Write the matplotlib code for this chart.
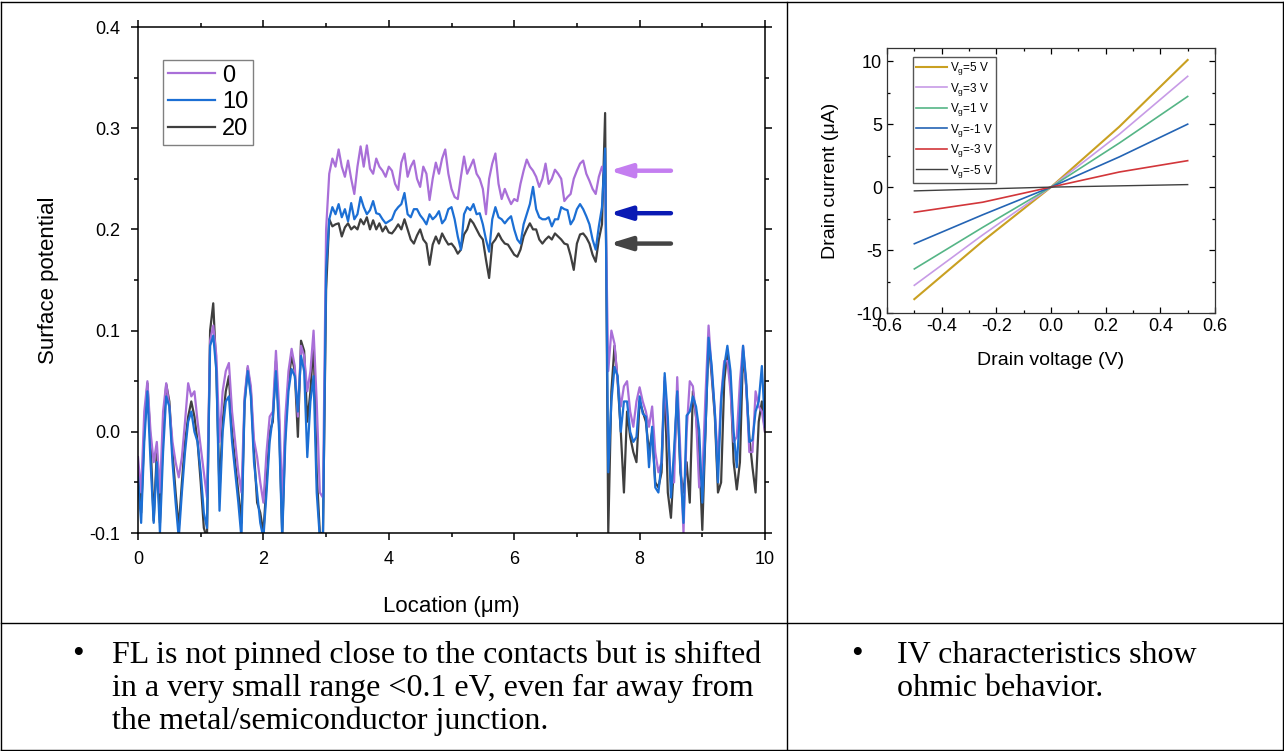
import numpy as np
import matplotlib
matplotlib.use("Agg")
import matplotlib.pyplot as plt
from matplotlib.lines import Line2D
from matplotlib.ticker import MultipleLocator

'''Surface potential line profiles (left) and IV curves (right)'''

# location grid of the KPFM line scan, 0.05 um steps
location = np.linspace(0, 10, 201)

# surface potential for the three traces, rows of 0.5 um
sp_0 = [
    -0.025, -0.06, 0.02, 0.05, 0.00, -0.03, -0.01, -0.06, 0.02, 0.048,
    0.025, -0.01, -0.03, -0.045, -0.025, 0.01, 0.048, 0.035, 0.04, 0.01,
    -0.015, -0.04, -0.065, 0.09, 0.105, 0.075, -0.01, 0.04, 0.06, 0.068,
    0.02, -0.01, -0.04, -0.06, 0.035, 0.065, 0.045, -0.008, -0.025, -0.05,
    -0.07, -0.02, 0.015, 0.02, 0.08, 0.025, -0.07, 0.015, 0.06, 0.082,
    0.065, 0.015, 0.085, 0.075, 0.04, 0.06, 0.1, 0.03, -0.06, -0.065,
    0.20, 0.255, 0.27, 0.262, 0.279, 0.262, 0.252, 0.268, 0.25, 0.235,
    0.262, 0.282, 0.262, 0.283, 0.26, 0.255, 0.27, 0.262, 0.258, 0.252,
    0.262, 0.258, 0.245, 0.239, 0.266, 0.275, 0.252, 0.262, 0.268, 0.25,
    0.242, 0.262, 0.255, 0.229, 0.25, 0.266, 0.255, 0.27, 0.279, 0.255,
    0.24, 0.232, 0.23, 0.252, 0.272, 0.255, 0.262, 0.269, 0.255, 0.25,
    0.24, 0.215, 0.25, 0.265, 0.275, 0.245, 0.23, 0.24, 0.232, 0.225,
    0.23, 0.228, 0.245, 0.258, 0.269, 0.262, 0.258, 0.252, 0.242, 0.25,
    0.265, 0.245, 0.25, 0.259, 0.255, 0.25, 0.228, 0.232, 0.235, 0.25,
    0.258, 0.265, 0.268, 0.255, 0.248, 0.24, 0.235, 0.252, 0.262, 0.25,
    0.06, 0.1, 0.087, 0.05, 0.025, 0.045, 0.05, 0.02, 0.005, 0.03,
    0.044, 0.03, 0.02, 0.005, 0.025, -0.02, -0.04, -0.03, 0.054, 0.0,
    -0.05, -0.05, 0.054, -0.02, -0.1, 0.0, 0.05, 0.045, 0.015, -0.055,
    -0.045, 0.035, 0.105, 0.06, 0.02, -0.03, 0.035, 0.07, 0.07, 0.04,
    -0.01, -0.005, 0.05, 0.085, 0.045, -0.02, -0.02, 0.04, 0.025, 0.02,
    0.0,
]

sp_10 = [
    -0.045, -0.09, -0.01, 0.04, -0.03, -0.09, -0.03, -0.10, -0.02, 0.035,
    0.025, -0.03, -0.07, -0.105, -0.06, -0.02, 0.01, 0.02, 0.0, -0.01,
    -0.04, -0.08, -0.095, 0.085, 0.095, 0.06, -0.078, 0.0, 0.03, 0.035,
    -0.01, -0.04, -0.07, -0.105, 0.028, 0.06, 0.035, -0.03, -0.06, -0.09,
    -0.105, -0.06, -0.01, 0.015, 0.06, 0.0, -0.105, -0.01, 0.04, 0.062,
    0.055, 0.02, 0.075, 0.06, -0.025, 0.03, 0.055, -0.06, -0.105, -0.105,
    0.16, 0.21, 0.222, 0.215, 0.225, 0.212, 0.22, 0.208, 0.226, 0.21,
    0.215, 0.232, 0.222, 0.215, 0.219, 0.228, 0.216, 0.215, 0.21, 0.206,
    0.208, 0.21, 0.218, 0.222, 0.225, 0.236, 0.215, 0.212, 0.22, 0.22,
    0.214, 0.21, 0.205, 0.215, 0.21, 0.213, 0.218, 0.206, 0.21, 0.22,
    0.222, 0.21, 0.193, 0.18, 0.215, 0.222, 0.219, 0.225, 0.215, 0.216,
    0.205, 0.19, 0.178, 0.21, 0.222, 0.212, 0.21, 0.206, 0.21, 0.213,
    0.2, 0.19, 0.186, 0.205, 0.215, 0.225, 0.242, 0.22, 0.212, 0.21,
    0.21, 0.212, 0.203, 0.21, 0.21, 0.222, 0.22, 0.219, 0.205, 0.21,
    0.22, 0.225, 0.22, 0.213, 0.205, 0.19, 0.18, 0.203, 0.222, 0.28,
    -0.04, 0.03, 0.064, 0.055, 0.0, 0.03, 0.03, 0.0, -0.01, -0.005,
    0.035, 0.018, 0.015, -0.035, 0.005, -0.055, -0.06, -0.03, 0.058, 0.015,
    -0.065, -0.018, 0.04, -0.035, -0.09, 0.016, 0.02, 0.035, 0.025, 0.002,
    -0.07, 0.0, 0.093, 0.065, 0.02, -0.05, 0.03, 0.065, 0.085, 0.06,
    0.0, -0.035, 0.02, 0.085, 0.05, -0.01, -0.008, 0.02, 0.03, 0.065,
    0.005,
]

sp_20 = [
    -0.035, -0.08, 0.0, 0.048, -0.01, -0.088, -0.02, -0.09, 0.0, 0.047,
    0.03, -0.02, -0.06, -0.095, -0.05, -0.01, 0.015, 0.03, 0.015, -0.01,
    -0.05, -0.095, -0.105, 0.1, 0.127, 0.06, -0.06, 0.01, 0.04, 0.055,
    0.0, -0.03, -0.06, -0.09, 0.03, 0.063, 0.04, -0.02, -0.07, -0.08,
    -0.1, -0.05, 0.0, 0.01, 0.07, 0.01, -0.1, 0.0, 0.05, 0.075,
    0.06, -0.005, 0.09, 0.08, 0.01, 0.04, 0.09, -0.04, -0.1, -0.1,
    0.14, 0.21, 0.203, 0.205, 0.206, 0.193, 0.202, 0.206, 0.2, 0.203,
    0.2, 0.21, 0.205, 0.212, 0.2, 0.209, 0.2, 0.206, 0.198, 0.203,
    0.197, 0.196, 0.2, 0.205, 0.2, 0.21, 0.2, 0.19, 0.186, 0.194,
    0.2, 0.19, 0.186, 0.165, 0.185, 0.193, 0.186, 0.196, 0.19, 0.185,
    0.186, 0.182, 0.176, 0.18, 0.195, 0.2, 0.21, 0.206, 0.2, 0.194,
    0.19, 0.17, 0.152, 0.186, 0.19, 0.196, 0.19, 0.186, 0.185, 0.18,
    0.175, 0.173, 0.18, 0.193, 0.2, 0.206, 0.2, 0.2, 0.19, 0.186,
    0.19, 0.193, 0.19, 0.196, 0.193, 0.19, 0.186, 0.185, 0.174, 0.16,
    0.186, 0.195, 0.196, 0.192, 0.186, 0.175, 0.168, 0.19, 0.205, 0.315,
    -0.1, 0.04, 0.085, 0.05, 0.0, -0.06, 0.02, -0.005, -0.02, -0.03,
    0.03, 0.02, 0.01, -0.02, 0.0, -0.05, -0.055, -0.04, 0.05, -0.06,
    -0.085, -0.03, 0.04, -0.04, -0.06, -0.03, -0.07, 0.04, 0.015, -0.02,
    -0.097, 0.0, 0.09, 0.055, 0.015, -0.06, -0.05, 0.05, 0.08, 0.05,
    -0.03, -0.057, -0.03, 0.08, 0.045, -0.005, -0.035, -0.06, 0.01, 0.03,
    0.0,
]

trace_labels = ["0", "10", "20"]

# plateau levels marked by arrows
arrow_levels = [0.258, 0.216, 0.186]

# IV curves
drain_v = [-0.5, -0.25, 0.0, 0.25, 0.5]
id_vg5 = [-8.9, -4.3, 0.0, 4.8, 10.1]
id_vg3 = [-7.8, -3.8, 0.0, 4.2, 8.8]
id_vg1 = [-6.5, -3.2, 0.0, 3.5, 7.2]
id_vgm1 = [-4.5, -2.2, 0.0, 2.4, 5.0]
id_vgm3 = [-2.0, -1.2, 0.0, 1.2, 2.1]
id_vgm5 = [-0.3, -0.15, 0.0, 0.1, 0.2]
vg_labels = ["5", "3", "1", "-1", "-3", "-5"]

left_notes = [
    "FL is not pinned close to the contacts but is shifted",
    "in a very small range <0.1 eV, even far away from",
    "the metal/semiconductor junction.",
]
right_notes = ["IV characteristics show", "ohmic behavior."]

plt.rcParams["font.family"] = ["Liberation Sans", "DejaVu Sans"]
plt.rcParams["axes.unicode_minus"] = False

W, H = 1284, 751
fig = plt.figure(figsize=(W / 100, H / 100), dpi=100)


def fx(px):
    return px / W


def fy(py):
    return 1 - py / H


# ---- left panel: surface potential
ax1 = fig.add_axes([fx(138), fy(533), fx(765) - fx(138), fy(27) - fy(533)])
c_0, c_10, c_20 = "#a96fd8", "#1c6fd4", "#3f3f3f"
h20, = ax1.plot(location, sp_20, color=c_20, lw=1.6, label=trace_labels[2])
h0, = ax1.plot(location, sp_0, color=c_0, lw=1.6, label=trace_labels[0])
h10, = ax1.plot(location, sp_10, color=c_10, lw=1.6, label=trace_labels[1])

ax1.set_xlim(0, 10)
ax1.set_ylim(-0.1, 0.4)
ax1.xaxis.set_major_locator(MultipleLocator(2))
ax1.xaxis.set_minor_locator(MultipleLocator(1))
ax1.yaxis.set_major_locator(MultipleLocator(0.1))
ax1.yaxis.set_minor_locator(MultipleLocator(0.05))
ax1.yaxis.set_major_formatter(plt.FuncFormatter(lambda v, p: f"{v:.1f}"))
ax1.tick_params(which="both", direction="out", top=True, right=True,
                labelsize=13, width=1.1)
ax1.tick_params(which="major", length=5, pad=8)
ax1.tick_params(which="minor", length=3)
for s in ax1.spines.values():
    s.set_linewidth(1.1)
ax1.set_xlabel("Location (\u03bcm)", fontsize=16, labelpad=20)
ax1.set_ylabel("Surface potential", fontsize=16, labelpad=22)

ax1.legend(handles=[h0, h10, h20], loc="upper left", bbox_to_anchor=(0.04, 0.935),
           borderaxespad=0, fontsize=17, handlelength=2.0, handletextpad=0.3,
           labelspacing=0.2, fancybox=False, edgecolor="#808080",
           framealpha=1, borderpad=0.2)

arrow_colors = ["#c47ef0", "#0a1ab4", "#444444"]
for lvl, col in zip(arrow_levels, arrow_colors):
    ax1.annotate("", xy=(7.52, lvl), xytext=(8.5, lvl),
                 arrowprops=dict(arrowstyle="-|>,head_length=1.3,head_width=0.4",
                                 lw=3.2, color=col, mutation_scale=10,
                                 shrinkA=0, shrinkB=0))

# ---- right panel: IV curves
ax2 = fig.add_axes([fx(887), fy(313), fx(1215) - fx(887), fy(48) - fy(313)])
iv_sets = [id_vg5, id_vg3, id_vg1, id_vgm1, id_vgm3, id_vgm5]
iv_colors = ["#c9a021", "#c79be6", "#55b586", "#2464b4", "#d2363a", "#404040"]
iv_lw = [1.5, 1.2, 1.2, 1.2, 1.2, 1.0]
for ys, col, lw, vg in zip(iv_sets, iv_colors, iv_lw, vg_labels):
    ax2.plot(drain_v, ys, color=col, lw=lw,
             label="V$_\\mathregular{g}$=" + vg + " V")

ax2.set_xlim(-0.6, 0.6)
ax2.set_ylim(-10, 11.05)
ax2.xaxis.set_major_locator(MultipleLocator(0.2))
ax2.xaxis.set_minor_locator(MultipleLocator(0.1))
ax2.yaxis.set_major_locator(MultipleLocator(5))
ax2.yaxis.set_minor_locator(MultipleLocator(2.5))
ax2.xaxis.set_major_formatter(plt.FuncFormatter(lambda v, p: f"{v:.1f}"))
ax2.tick_params(which="both", direction="in", top=True, right=True,
                labelsize=13, width=0.9)
ax2.tick_params(which="major", length=4)
ax2.tick_params(which="minor", length=2.5)
for s in ax2.spines.values():
    s.set_linewidth(0.9)
    s.set_color("#333333")
ax2.set_xlabel("Drain voltage (V)", fontsize=14, labelpad=12)
ax2.set_ylabel("Drain current (\u03bcA)", fontsize=14, labelpad=12)
ax2.legend(loc="upper left", bbox_to_anchor=(0.079, 0.966), borderaxespad=0,
           fontsize=8.5, handlelength=2.6, handletextpad=0.3, labelspacing=0.3,
           fancybox=False, edgecolor="#555555", framealpha=1, borderpad=0.25)

# ---- table frame
frame = dict(color="black", lw=1.0)
for seg in [((1.5, 1.5), (1.5, 749.5)), ((1282.5, 1282.5), (1.5, 749.5)),
            ((1.5, 1282.5), (1.5, 1.5)), ((1.5, 1282.5), (749.5, 749.5)),
            ((787, 787), (1.5, 749.5)), ((1.5, 1282.5), (623, 623))]:
    fig.add_artist(Line2D([fx(seg[0][0]), fx(seg[0][1])],
                          [fy(seg[1][0]), fy(seg[1][1])], **frame))

# ---- notes
serif = ["Liberation Serif", "DejaVu Serif"]
baselines = [663, 696, 729]
fig.text(fx(72), fy(baselines[0]), "\u2022", family=serif, fontsize=24, va="baseline")
for txt, b in zip(left_notes, baselines):
    fig.text(fx(112), fy(b), txt, family=serif, fontsize=23, va="baseline")
fig.text(fx(851), fy(baselines[0]), "\u2022", family=serif, fontsize=24, va="baseline")
for txt, b in zip(right_notes, baselines):
    fig.text(fx(897), fy(b), txt, family=serif, fontsize=23, va="baseline")

fig.savefig("out.png", dpi=100)
